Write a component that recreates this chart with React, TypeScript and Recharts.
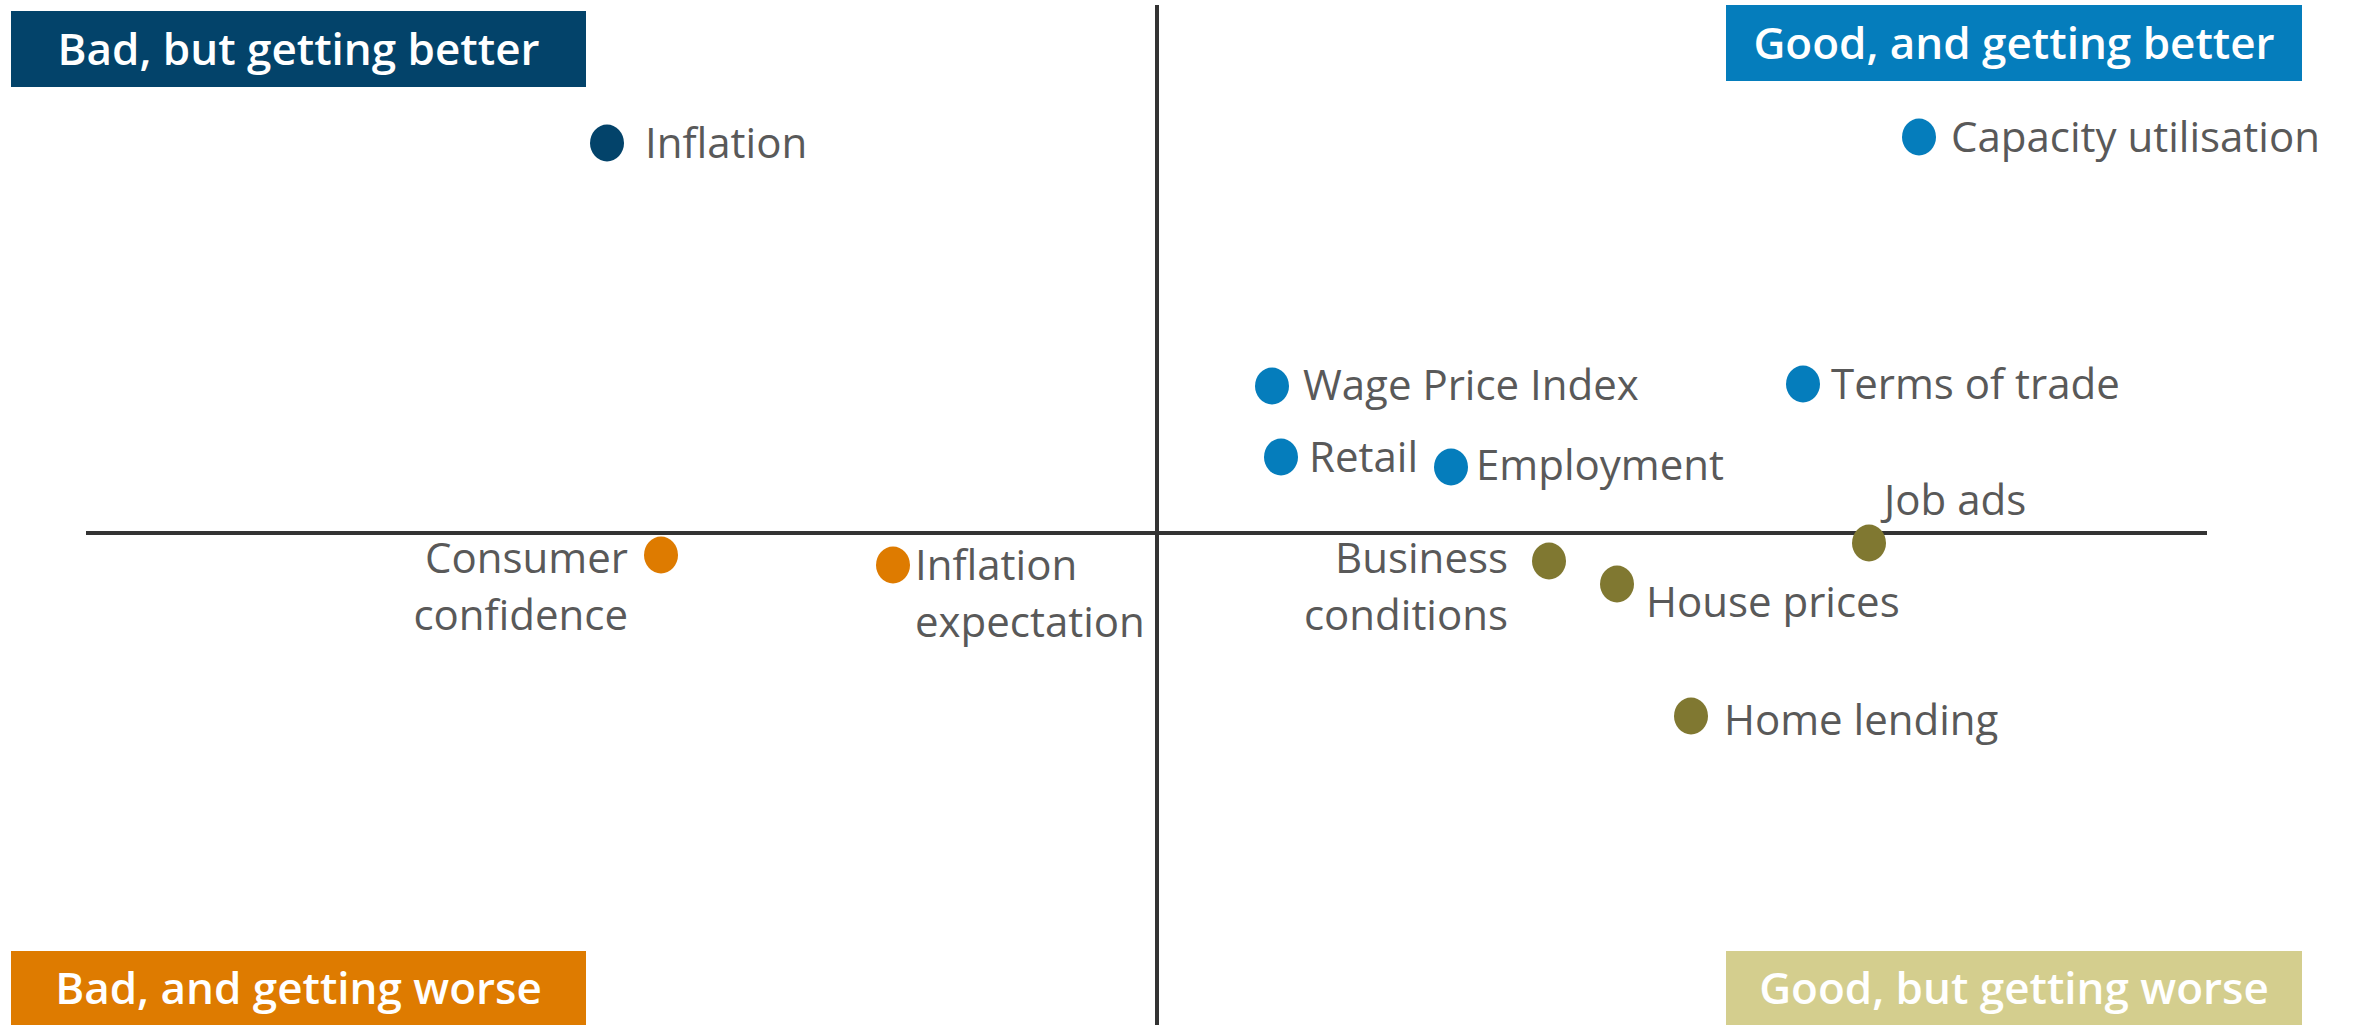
import { ReferenceArea, ReferenceLine, Scatter, ScatterChart, XAxis, YAxis } from "recharts";

// positions on an arbitrary "level" (x) vs "momentum" (y) scale
const badBetter = [{ name: "Inflation", x: -5.5, y: 3.9 }];
const goodBetter = [
  { name: "Capacity utilisation", x: 7.62, y: 3.96 },
  { name: "Wage Price Index", x: 1.15, y: 1.47 },
  { name: "Terms of trade", x: 6.46, y: 1.49 },
  { name: "Retail", x: 1.24, y: 0.76 },
  { name: "Employment", x: 2.94, y: 0.66 },
];
const badWorse = [
  { name: "Consumer confidence", x: -4.96, y: -0.22 },
  { name: "Inflation expectation", x: -2.64, y: -0.32 },
];
const goodWorse = [
  { name: "Business conditions", x: 3.92, y: -0.28 },
  { name: "House prices", x: 4.6, y: -0.51 },
  { name: "Job ads", x: 7.12, y: -0.1 },
  { name: "Home lending", x: 5.34, y: -1.83 },
];

const quadrants = [
  { label: "Bad, but getting better", x1: -11.46, x2: -5.71, y1: 4.46, y2: 5.22, color: "#03436A" },
  { label: "Good, and getting better", x1: 5.69, x2: 11.45, y1: 4.52, y2: 5.28, color: "#057DBC" },
  { label: "Bad, and getting worse", x1: -11.46, x2: -5.71, y1: -4.92, y2: -4.18, color: "#DE7B00" },
  { label: "Good, but getting worse", x1: 5.69, x2: 11.45, y1: -4.92, y2: -4.18, color: "#D4CE8E" },
];

// label placement next to each dot
const labelPos: Record<string, { dx: number; dy: number; anchor: "start" | "end"; lines?: string[] }> = {
  Inflation: { dx: 38, dy: 15, anchor: "start" },
  "Capacity utilisation": { dx: 32, dy: 15, anchor: "start" },
  "Wage Price Index": { dx: 31, dy: 14, anchor: "start" },
  "Terms of trade": { dx: 28, dy: 15, anchor: "start" },
  Retail: { dx: 28, dy: 15, anchor: "start" },
  Employment: { dx: 25, dy: 13, anchor: "start" },
  "Consumer confidence": { dx: -33, dy: 18, anchor: "end", lines: ["Consumer", "confidence"] },
  "Inflation expectation": { dx: 22, dy: 15, anchor: "start", lines: ["Inflation", "expectation"] },
  "Business conditions": { dx: -41, dy: 12, anchor: "end", lines: ["Business", "conditions"] },
  "House prices": { dx: 29, dy: 33, anchor: "start" },
  "Job ads": { dx: 15, dy: -28, anchor: "start" },
  "Home lending": { dx: 33, dy: 19, anchor: "start" },
};

const FONT = "'Open Sans', Lato, sans-serif";

function makeDot(color: string) {
  return (props: any) => {
    const { cx, cy, payload } = props;
    const pos = labelPos[payload.name];
    const lines = pos.lines || [payload.name];
    return (
      <g>
        <ellipse cx={cx} cy={cy} rx={17} ry={18.5} fill={color} />
        {lines.map((t, i) => (
          <text
            key={t}
            x={cx + pos.dx}
            y={cy + pos.dy + i * 57}
            textAnchor={pos.anchor}
            fontFamily={FONT}
            fontSize={42}
            fill="#595959"
          >
            {t}
          </text>
        ))}
      </g>
    );
  };
}

export default function App() {
  return (
    <div style={{ width: 2359, height: 1025, background: "#fff" }}>
      <style>{"body{margin:0}"}</style>
      <ScatterChart width={2359} height={1025} margin={{ top: 0, right: 0, bottom: 0, left: 0 }}>
        <XAxis type="number" dataKey="x" domain={[-11.57, 12.02]} hide />
        <YAxis type="number" dataKey="y" domain={[-4.92, 5.33]} hide />
        <ReferenceLine
          segment={[
            { x: -10.71, y: 0 },
            { x: 10.5, y: 0 },
          ]}
          stroke="#333"
          strokeWidth={4}
        />
        <ReferenceLine
          segment={[
            { x: 0, y: 5.28 },
            { x: 0, y: -4.92 },
          ]}
          stroke="#333"
          strokeWidth={4}
        />
        {quadrants.map((q) => (
          <ReferenceArea
            key={q.label}
            x1={q.x1}
            x2={q.x2}
            y1={q.y1}
            y2={q.y2}
            fill={q.color}
            fillOpacity={1}
            stroke="none"
            label={{
              value: q.label,
              position: "center",
              fill: "#fff",
              fontSize: 44,
              fontWeight: 600,
              fontFamily: FONT,
            }}
          />
        ))}
        <Scatter data={badBetter} shape={makeDot("#03436A")} isAnimationActive={false} />
        <Scatter data={goodBetter} shape={makeDot("#057DBC")} isAnimationActive={false} />
        <Scatter data={badWorse} shape={makeDot("#DE7B00")} isAnimationActive={false} />
        <Scatter data={goodWorse} shape={makeDot("#807831")} isAnimationActive={false} />
      </ScatterChart>
    </div>
  );
}
